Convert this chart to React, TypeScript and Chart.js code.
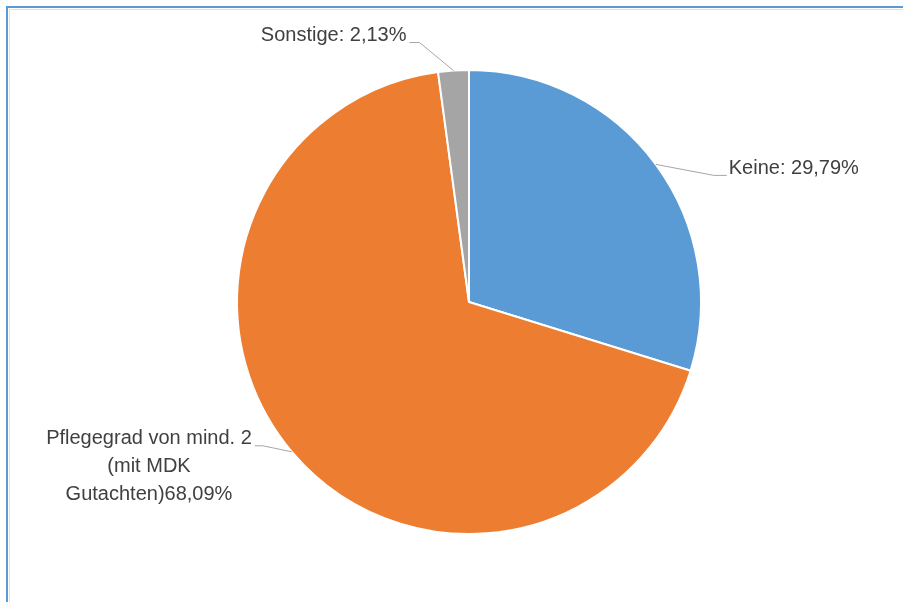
import React, { useEffect, useRef } from "react";
import { Chart, registerables } from "chart.js";

Chart.register(...registerables);

const categories = ["Keine", "Pflegegrad von mind. 2 (mit MDK Gutachten)", "Sonstige"];
const values = [29.79, 68.09, 2.13];
const labelLines = [
  ["Keine: 29,79%"],
  ["Pflegegrad von mind. 2", "(mit MDK", "Gutachten)68,09%"],
  ["Sonstige: 2,13%"],
];
const colors = ["#5B9BD5", "#ED7D31", "#A5A5A5"];

// leader line placement relative to the slice's outer mid point: [elbowDx, elbowDy, endDx, endDy, side]
const leaderPlacement: [number, number, number, number, "left" | "right"][] = [
  [58, 11, 71, 11, "right"],
  [-29, -6, -37, -6, "left"],
  [-34, -28, -44, -28, "left"],
];

const FONT = "20px 'Liberation Sans Narrow', 'Arial Narrow', 'Liberation Sans', sans-serif";
const LINE_H = 28;

const labelPlugin = {
  id: "leaderLabels",
  afterDatasetsDraw(chart: any) {
    const ctx = chart.ctx as CanvasRenderingContext2D;
    const meta = chart.getDatasetMeta(0);
    ctx.save();
    ctx.font = FONT;
    meta.data.forEach((arc: any, i: number) => {
      const { x, y, startAngle, endAngle, outerRadius } = arc.getProps(
        ["x", "y", "startAngle", "endAngle", "outerRadius"],
        true
      );
      const mid = (startAngle + endAngle) / 2;
      const sx = x + Math.cos(mid) * outerRadius;
      const sy = y + Math.sin(mid) * outerRadius;
      const [edx, edy, ndx, ndy, side] = leaderPlacement[i];
      ctx.strokeStyle = "#A6A6A6";
      ctx.lineWidth = 1;
      ctx.beginPath();
      ctx.moveTo(sx, sy);
      ctx.lineTo(sx + edx, sy + edy);
      ctx.lineTo(sx + ndx, sy + ndy);
      ctx.stroke();
      const ex = sx + ndx;
      const ey = sy + ndy;
      const lines = labelLines[i];
      const widths = lines.map((l) => ctx.measureText(l).width);
      const maxW = Math.max(...widths);
      ctx.fillStyle = "#404040";
      ctx.textBaseline = "middle";
      ctx.textAlign = "center";
      const cx = side === "right" ? ex + 2 + maxW / 2 : ex - 3 - maxW / 2;
      const topY = ey - 7;
      lines.forEach((l, k) => {
        ctx.fillText(l, cx, topY + k * LINE_H);
      });
    });
    ctx.restore();
  },
};

export default function App() {
  const ref = useRef<HTMLCanvasElement | null>(null);
  useEffect(() => {
    if (!ref.current) return;
    const chart = new Chart(ref.current, {
      type: "pie",
      data: {
        labels: categories,
        datasets: [
          {
            data: values,
            backgroundColor: colors,
            borderColor: "#FFFFFF",
            borderWidth: 2,
          },
        ],
      },
      options: {
        animation: false,
        responsive: false,
        layout: { padding: { top: 69, bottom: 67, left: 200, right: 165 } },
        plugins: {
          legend: { display: false },
          tooltip: { enabled: false },
        },
      },
      plugins: [labelPlugin],
    });
    return () => chart.destroy();
  }, []);
  return (
    <div style={{ position: "absolute", left: 0, top: 0, width: 903, height: 602, overflow: "hidden", background: "#fff" }}>
      <div
        style={{
          position: "absolute",
          left: 6,
          top: 6,
          width: 1000,
          height: 1000,
          borderLeft: "2px solid #5B9BD5",
          borderTop: "2px solid #5B9BD5",
        }}
      />
      <div
        style={{
          position: "absolute",
          left: 9,
          top: 9,
          width: 1000,
          height: 1000,
          borderLeft: "1px solid #E0E0E0",
          borderTop: "1px solid #E0E0E0",
        }}
      />
      <canvas ref={ref} width={903} height={602} style={{ position: "absolute", left: 0, top: 0 }} />
    </div>
  );
}
